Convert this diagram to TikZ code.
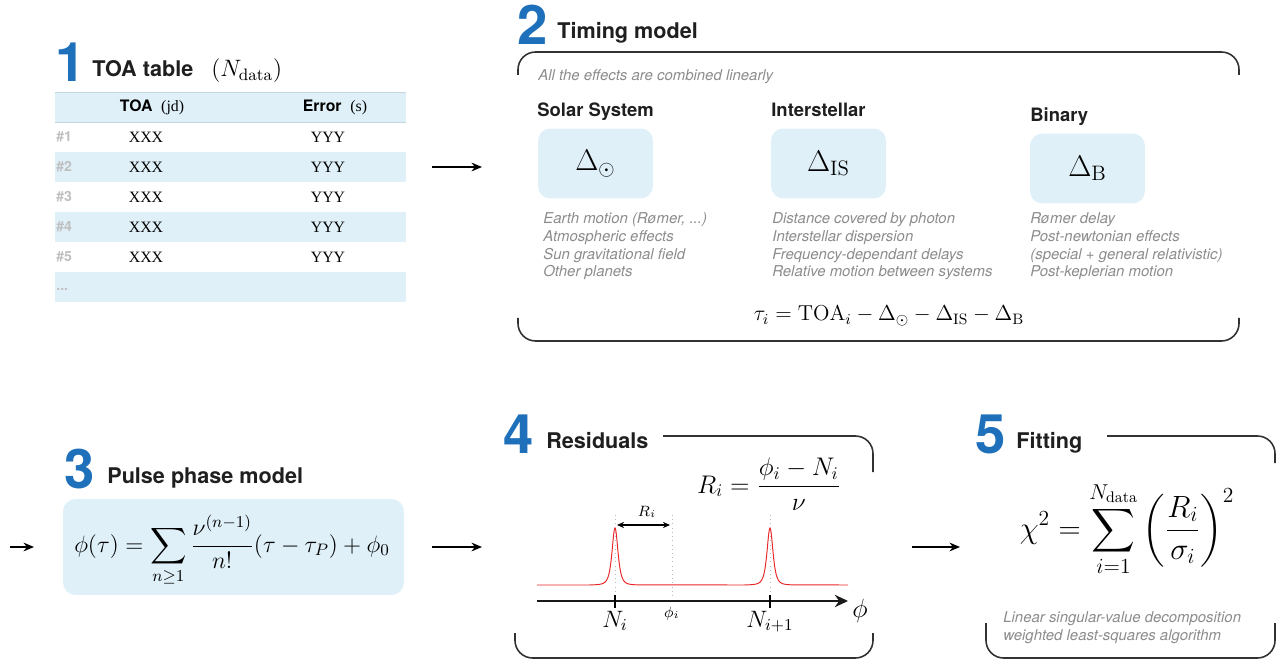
\RequirePackage{fix-cm}
\documentclass[tikz,border=0pt]{standalone}
\usepackage{amsmath}
\usepackage{fontspec}
\usetikzlibrary{arrows.meta}
\newfontfamily\hel{TeX Gyre Heros}
\newfontfamily\tms{Liberation Serif}

\definecolor{numblue}{RGB}{30,112,186}
\definecolor{boxblue}{RGB}{223,240,249}
\definecolor{rowline}{RGB}{196,214,226}
\definecolor{notegray}{RGB}{140,140,140}
\definecolor{brkgray}{RGB}{50,50,50}
\definecolor{peakred}{RGB}{232,40,40}

\tikzset{
  num/.style={font=\hel\bfseries\fontsize{31}{31}\selectfont, text=numblue, inner sep=0pt, anchor=base west},
  ttl/.style={font=\hel\bfseries\fontsize{12.3}{14}\selectfont, text=black!88, inner sep=0pt, anchor=base west},
  sub/.style={font=\hel\bfseries\fontsize{10.5}{12}\selectfont, text=black!88, inner sep=0pt, anchor=base west},
  note/.style={font=\hel\itshape\fontsize{8.5}{10.2}\selectfont, text=notegray, inner sep=0pt, align=left},
  dbox/.style={fill=boxblue, rounded corners=7pt, font=\fontsize{17}{19}\selectfont},
  brk/.style={draw=brkgray, line width=0.9pt, rounded corners=10pt},
  arr/.style={-{Stealth[length=6pt,width=5pt]}, line width=0.75pt},
  hdr/.style={font=\hel\fontsize{9}{10}\selectfont, inner sep=0pt},
  cell/.style={font=\tms\fontsize{9}{10}\selectfont, inner sep=0pt},
  rowlbl/.style={font=\hel\bfseries\fontsize{8}{10}\selectfont, text=black!25, inner sep=0pt, anchor=west},
  eqn/.style={anchor=base, inner sep=0pt, font=\fontsize{14}{16}\selectfont},
}

\begin{document}
\begin{tikzpicture}[x=0.02cm, y=-0.02cm]
\useasboundingbox (0,0) rectangle (1281,665);

% 1 -- TOA table
\node[num] (n1) at (55,82) {1};
\node[ttl] (t1) at (92,77) {TOA table};
\node[anchor=base west, inner sep=0pt, font=\fontsize{13.5}{15}\selectfont] (ndata) at (211,77) {$(N_{\mathrm{data}})$};

\fill[boxblue] (55,92) rectangle (406,122) ;
\fill[boxblue] (55,152) rectangle (406,182) ;
\fill[boxblue] (55,212) rectangle (406,242) ;
\fill[boxblue] (55,272) rectangle (406,302) ;
\draw[rowline] (55,92) -- (406,92) ;
\draw[rowline] (55,122) -- (406,122) ;

\node[hdr] (htoa) at (152,107) {{\bfseries TOA}\ \ {\tms (jd)}};
\node[hdr] (herr) at (335,107) {{\bfseries Error}\ \ {\tms (s)}};

\node[rowlbl] (r1) at (56,137) {\#1};
\node[rowlbl] (r2) at (56,167) {\#2};
\node[rowlbl] (r3) at (56,197) {\#3};
\node[rowlbl] (r4) at (56,227) {\#4};
\node[rowlbl] (r5) at (56,257) {\#5};
\node[rowlbl] (r6) at (56,289) {...};

\node[cell] (x1) at (146,137) {XXX};
\node[cell] (x2) at (146,167) {XXX};
\node[cell] (x3) at (146,197) {XXX};
\node[cell] (x4) at (146,227) {XXX};
\node[cell] (x5) at (146,257) {XXX};
\node[cell] (y1) at (328,137) {YYY};
\node[cell] (y2) at (328,167) {YYY};
\node[cell] (y3) at (328,197) {YYY};
\node[cell] (y4) at (328,227) {YYY};
\node[cell] (y5) at (328,257) {YYY};

\coordinate (a1s) at (432,167);
\coordinate (a1e) at (482,167);
\draw[arr] (a1s) -- (a1e);

% 2 -- timing model
\node[num] (n2) at (517,45) {2};
\node[ttl] (t2) at (557,39) {Timing model};
\draw[brk] (518,75) |- (1239,52) -- (1239,75);
\draw[brk] (518,318) |- (1239,341) -- (1239,318);
\node[note, anchor=base west] (lin) at (538,81) {All the effects are combined linearly};

\node[sub] (ssol) at (537,117) {Solar System};
\node[sub] (sis) at (771,117) {Interstellar};
\node[sub] (sbin) at (1030,122) {Binary};

\node[dbox, minimum width=2.3cm, minimum height=1.4cm] (bsol) at (595.5,163.5) {$\Delta_\odot$};
\node[dbox, minimum width=2.3cm, minimum height=1.4cm] (bis) at (828.5,163.5) {$\Delta_{\mathrm{IS}}$};
\node[dbox, minimum width=2.3cm, minimum height=1.4cm] (bbin) at (1087.5,168.5) {$\Delta_{\mathrm{B}}$};

\node[note, anchor=north west] (dsol) at (543,212) {Earth motion (Rømer, ...)\\Atmospheric effects\\Sun gravitational field\\Other planets};
\node[note, anchor=north west] (dis) at (772,212) {Distance covered by photon\\Interstellar dispersion\\Frequency-dependant delays\\Relative motion between systems};
\node[note, anchor=north west] (dbin) at (1030,212) {Rømer delay\\Post-newtonian effects\\(special + general relativistic)\\Post-keplerian motion};

\node[eqn, font=\fontsize{12.3}{14}\selectfont] (tau) at (889,321) {$\tau_i = \mathrm{TOA}_i - \Delta_\odot - \Delta_{\mathrm{IS}} - \Delta_{\mathrm{B}}$};

% 3 -- pulse phase
\coordinate (a2s) at (10,547);
\coordinate (a2e) at (34,547);
\draw[arr] (a2s) -- (a2e);

\node[num] (n3) at (64,488) {3};
\node[ttl] (t3) at (107,483) {Pulse phase model};
\node[dbox, minimum width=6.82cm, minimum height=1.92cm] (pbox) at (233.5,547) {};
\node[eqn, font=\fontsize{13.5}{15}\selectfont] (pform) at (232,552) {$\displaystyle \phi(\tau) = \sum_{n\geq 1} \frac{\nu^{(n-1)}}{n!}(\tau-\tau_P)+\phi_0$};

\coordinate (a3s) at (432,547);
\coordinate (a3e) at (482,547);
\draw[arr] (a3s) -- (a3e);

% 4 -- residuals
\node[num] (n4) at (503,453) {4};
\node[ttl] (t4) at (546,448) {Residuals};
\draw[brk] (663,436) -| (873,472);
\draw[brk] (515,633) |- (873,658) -- (873,633);
\node[eqn, font=\fontsize{14.5}{16}\selectfont] (rform) at (769,493) {$\displaystyle R_i = \frac{\phi_i - N_i}{\nu}$};

\draw[gray!55, dotted, thin] (615,515) -- (615,598) ;
\draw[gray!55, dotted, thin] (672,515) -- (672,598) ;
\draw[gray!55, dotted, thin] (770,515) -- (770,598) ;

\draw[peakred, line width=0.55pt] (537,585) -- (590,585)
  -- plot[domain=590:640, samples=121] (\x, {585-57/((1+((\x-615)/5.4)^2)^2)})
  -- (745,585)
  -- plot[domain=745:795, samples=121] (\x, {585-57/((1+((\x-770)/5.4)^2)^2)})
  -- (848,585);

\coordinate (ax0) at (537,601);
\coordinate (ax1) at (848,601);
\draw[-{Stealth[length=7.5pt,width=7pt]}, line width=1.1pt, black!90] (ax0) -- (ax1);
\draw[line width=1pt] (615,595) -- (615,608) ;
\draw[line width=1pt] (770,595) -- (770,608) ;
\node[inner sep=0pt, font=\fontsize{15}{16}\selectfont] (phi) at (860,611) {$\phi$};
\node[eqn, font=\fontsize{13.5}{15}\selectfont] (ni) at (615,627) {$N_i$};
\node[eqn, font=\fontsize{13.5}{15}\selectfont] (ni1) at (770,627) {$N_{i+1}$};
\node[eqn, font=\fontsize{8.5}{9}\selectfont] (phii) at (672,617) {$\phi_i$};

\coordinate (rs) at (617,525);
\coordinate (re) at (670,525);
\draw[{Stealth[length=4pt,width=3.5pt]}-{Stealth[length=4pt,width=3.5pt]}, line width=0.6pt] (rs) -- (re);
\node[eqn, font=\fontsize{8.5}{9}\selectfont] (rlbl) at (647,516) {$R_i$};

% 5 -- fitting
\coordinate (a4s) at (912,547);
\coordinate (a4e) at (960,547);
\draw[arr] (a4s) -- (a4e);

\node[num] (n5) at (975,453) {5};
\node[ttl] (t5) at (1016,448) {Fitting};
\draw[brk] (1107,436) -| (1275,463);
\draw[brk] (986,623) |- (1275,658) -- (1275,623);
\node[eqn, font=\fontsize{17.5}{19}\selectfont] (chi) at (1127,538) {$\displaystyle \chi^2 = \sum_{i=1}^{N_{\mathrm{data}}} \left(\frac{R_i}{\sigma_i}\right)^2$};
\node[note, anchor=north west] (fnote) at (1003,611) {Linear singular-value decomposition\\weighted least-squares algorithm};

\end{tikzpicture}
\end{document}
